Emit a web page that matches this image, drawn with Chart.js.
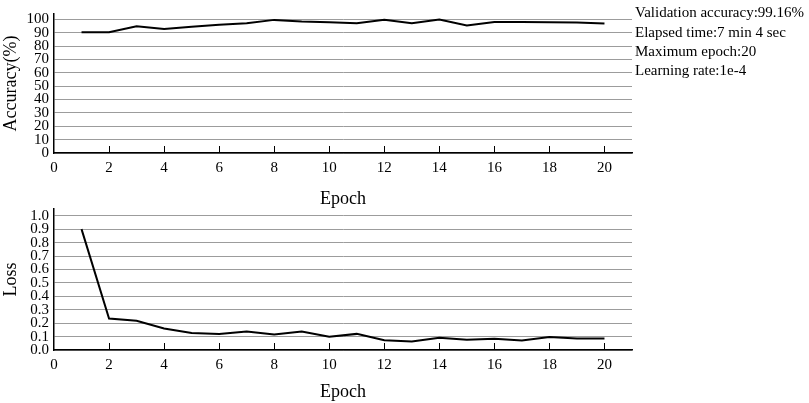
<!DOCTYPE html>
<html>
<head>
<meta charset="utf-8">
<script src="https://cdn.jsdelivr.net/npm/chart.js@4.4.1/dist/chart.umd.min.js"></script>
<style>
  body { margin: 0; background: #fff; }
  #wrap { position: relative; width: 809px; height: 403px; overflow: hidden; }
  canvas { position: absolute; left: 0; }
  .note { position: absolute; left: 635px; font: 15px "Liberation Serif", serif; color: #000; white-space: nowrap; }
</style>
</head>
<body>
<div id="wrap">
  <canvas id="accChart" style="top:0"></canvas>
  <canvas id="lossChart" style="top:195px"></canvas>
  <div class="note" style="top:4px">Validation accuracy:99.16%</div>
  <div class="note" style="top:24px">Elapsed time:7 min 4 sec</div>
  <div class="note" style="top:43px">Maximum epoch:20</div>
  <div class="note" style="top:62px">Learning rate:1e-4</div>
</div>
<script>
// values
const epochs = [1, 2, 3, 4, 5, 6, 7, 8, 9, 10, 11, 12, 13, 14, 15, 16, 17, 18, 19, 20];
const accuracy = [90.3, 90.3, 94.8, 92.8, 94.4, 96.0, 97.0, 99.6, 98.4, 97.9, 97.0, 99.6, 97.0, 99.8, 95.4, 98.1, 98.1, 97.8, 97.7, 96.8];
const loss = [0.90, 0.234, 0.218, 0.16, 0.126, 0.119, 0.138, 0.115, 0.138, 0.099, 0.12, 0.073, 0.064, 0.092, 0.076, 0.083, 0.071, 0.096, 0.085, 0.085];

const serif = '"Liberation Serif", "Times New Roman", serif';
const gridGray = '#9c9c9c';

// small tick marks pointing up into the plot, like the original
const innerTicks = {
  id: 'innerTicks',
  afterDraw(chart) {
    const x = chart.scales.x, ctx = chart.ctx, y0 = chart.chartArea.bottom;
    ctx.save();
    ctx.strokeStyle = '#000';
    ctx.lineWidth = 1;
    x.ticks.forEach(t => {
      if (t.value === 0) return;
      const px = Math.round(x.getPixelForValue(t.value)) + 0.5;
      ctx.beginPath();
      ctx.moveTo(px, y0);
      ctx.lineTo(px, y0 - 7);
      ctx.stroke();
    });
    ctx.restore();
  }
};

function makeChart(id, height, values, yOpts, yTitle, pad, xAxisH) {
  const cv = document.getElementById(id);
  cv.width = 809; cv.height = height;
  cv.style.width = '809px'; cv.style.height = height + 'px';
  return new Chart(cv, {
    type: 'line',
    data: {
      datasets: [{
        data: epochs.map((e, i) => ({ x: e, y: values[i] })),
        borderColor: '#000',
        borderWidth: 2,
        pointRadius: 0,
        tension: 0,
        fill: false
      }]
    },
    options: {
      responsive: false,
      animation: false,
      layout: { padding: { left: 0, right: 177, top: pad, bottom: 0 } },
      plugins: { legend: { display: false }, tooltip: { enabled: false } },
      scales: {
        x: {
          type: 'linear',
          min: 0, max: 21,
          afterFit: s => { s.height = xAxisH; },
          ticks: { stepSize: 2, autoSkip: false, includeBounds: false, padding: 6, color: '#000', font: { family: serif, size: 15 } },
          grid: { drawOnChartArea: false, drawTicks: false },
          border: { color: '#000', width: 1.5 },
          title: { display: true, text: 'Epoch', color: '#000', font: { family: serif, size: 18 }, padding: { top: 8, bottom: 0 } }
        },
        y: {
          min: yOpts.min,
          max: yOpts.max,
          afterFit: s => { s.width = 54; },
          ticks: Object.assign({ autoSkip: false, includeBounds: false, padding: 5, color: '#000', font: { family: serif, size: 15 } }, yOpts.ticks),
          grid: { color: gridGray, lineWidth: 1, drawTicks: false },
          border: { color: '#000', width: 1.5 },
          title: { display: true, text: yTitle, color: '#000', font: { family: serif, size: 18 }, padding: 0 }
        }
      }
    },
    plugins: [innerTicks]
  });
}

makeChart('accChart', 210, accuracy, { min: 0, max: 104, ticks: { stepSize: 10 } }, 'Accuracy(%)', 3, 57);
makeChart('lossChart', 208, loss, { min: 0, max: 1.05, ticks: { stepSize: 0.1, callback: v => v.toFixed(1) } }, 'Loss', 2, 53);
</script>
</body>
</html>
